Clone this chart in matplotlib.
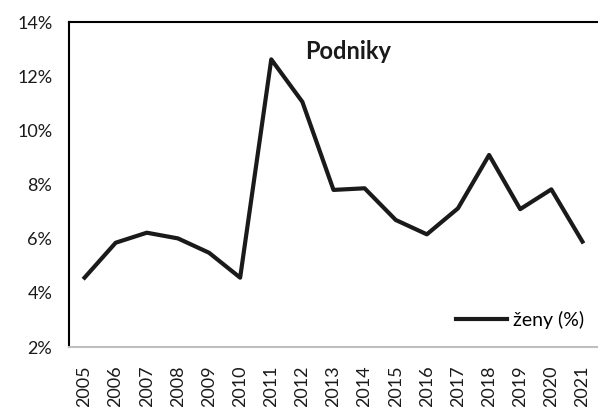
import matplotlib.pyplot as plt
from matplotlib.ticker import FuncFormatter

years = [str(y) for y in range(2005, 2022)]
zeny = [4.56, 5.85, 6.22, 6.01, 5.48, 4.56, 12.62, 11.05, 7.80, 7.86,
        6.69, 6.16, 7.12, 9.09, 7.09, 7.82, 5.89]

plt.rcParams['font.family'] = ['Lato', 'DejaVu Sans']

fig = plt.figure(figsize=(5.98, 4.07), dpi=100)
ax = fig.add_axes([69 / 598, 1 - 347 / 407, 529 / 598, 325 / 407])

x = list(range(len(years)))
ax.plot(x, zeny, color="#1a1a1a", linewidth=3, label="ženy (%)")

ax.set_xlim(-0.5, len(years) - 0.5)
ax.set_ylim(2, 14)
ax.set_yticks(range(2, 15, 2))
ax.yaxis.set_major_formatter(FuncFormatter(lambda v, p: f"{v:.0f}%"))
ax.set_xticks(x)
ax.set_xticklabels(years, rotation=90)
ax.tick_params(length=0, labelsize=13, colors="#1a1a1a")
ax.tick_params(axis="y", pad=12)
ax.tick_params(axis="x", pad=13)

ax.spines["right"].set_visible(False)
ax.spines["top"].set_linewidth(1.5)
ax.spines["left"].set_linewidth(1.5)
ax.spines["bottom"].set_color("#bfbfbf")
ax.spines["bottom"].set_linewidth(1.5)

ax.text(0.527, 0.91, "Podniky", transform=ax.transAxes, ha="center",
        va="center", fontsize=17, fontweight="bold", color="#1a1a1a")

ax.legend(loc="lower right", frameon=False, fontsize=14, handlelength=2.6,
          handletextpad=0.3, borderaxespad=0.2, bbox_to_anchor=(0.995, 0.02))

fig.savefig("out.png", dpi=100)
